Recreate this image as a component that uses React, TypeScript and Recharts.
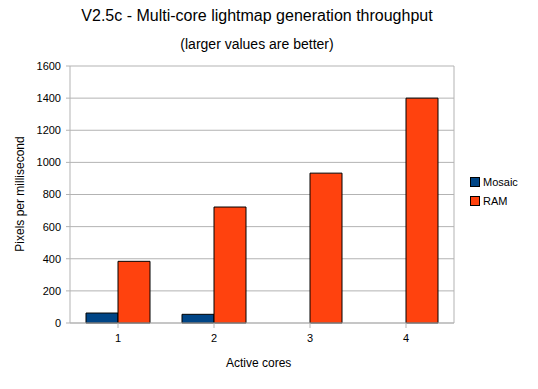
import { BarChart, Bar, XAxis, YAxis, CartesianGrid } from 'recharts';

const CORES = ['1', '2', '3', '4'];
const MOSAIC = [62, 54, null, null];
const RAM = [384, 722, 933, 1400];
const Y_TICKS = [0, 200, 400, 600, 800, 1000, 1200, 1400, 1600];

const SERIES = [
  { key: 'Mosaic', fill: '#004586' },
  { key: 'RAM', fill: '#ff420e' },
];

const data = CORES.map((c, i) => ({ cores: c, Mosaic: MOSAIC[i], RAM: RAM[i] }));

const FONT = '"Liberation Sans", Arial, sans-serif';

function LegendBox() {
  return (
    <div style={{ position: 'absolute', left: 470, top: 172, fontFamily: FONT, fontSize: 11, color: '#000' }}>
      {SERIES.map((s) => (
        <div key={s.key} style={{ display: 'flex', alignItems: 'center', height: 19 }}>
          <span style={{ width: 8, height: 8, background: s.fill, border: '1px solid #000', marginRight: 3 }} />
          {s.key}
        </div>
      ))}
    </div>
  );
}

export default function App() {
  return (
    <div style={{ position: 'absolute', left: 0, top: 0, width: 538, height: 389, background: '#fff', fontFamily: FONT }}>
      <div style={{ position: 'absolute', top: 7, width: 514, textAlign: 'center', fontSize: 16, color: '#000' }}>
        V2.5c - Multi-core lightmap generation throughput
      </div>
      <div style={{ position: 'absolute', top: 36, width: 514, textAlign: 'center', fontSize: 14, color: '#000' }}>
        (larger values are better)
      </div>
      <div
        style={{
          position: 'absolute', left: 20, top: 194, fontSize: 12, color: '#000', whiteSpace: 'nowrap',
          transform: 'translate(-50%, -50%) rotate(-90deg)',
        }}
      >
        Pixels per millisecond
      </div>
      <div style={{ position: 'absolute', left: 226, top: 356, fontSize: 12, color: '#000', whiteSpace: 'nowrap' }}>
        Active cores
      </div>
      <BarChart
        width={538}
        height={389}
        data={data}
        margin={{ top: 66, right: 84, bottom: 36, left: 30 }}
        barGap={0}
        barSize={32}
      >
        <CartesianGrid stroke="#b3b3b3" vertical={false} />
        <CartesianGrid stroke="#b3b3b3" horizontal={false} verticalPoints={[454]} />
        <XAxis
          dataKey="cores"
          height={30}
          tickSize={5}
          tickMargin={6}
          stroke="#b3b3b3"
          tick={{ fill: '#000', fontSize: 11, fontFamily: FONT }}
        />
        <YAxis
          width={40}
          domain={[0, 1600]}
          ticks={Y_TICKS}
          tickSize={4}
          tickMargin={5}
          stroke="#b3b3b3"
          tick={{ fill: '#000', fontSize: 11, fontFamily: FONT }}
        />
        {SERIES.map((s) => (
          <Bar key={s.key} dataKey={s.key} fill={s.fill} stroke="#000" strokeWidth={1} isAnimationActive={false} />
        ))}
      </BarChart>
      <LegendBox />
    </div>
  );
}
